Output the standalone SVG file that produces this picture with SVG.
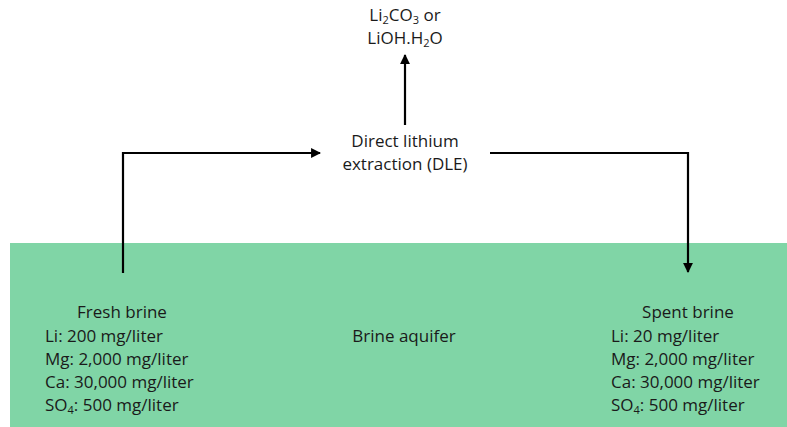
<svg xmlns="http://www.w3.org/2000/svg" width="787" height="427" viewBox="0 0 787 427">
<style>
text{font-family:"Open Sans","Liberation Sans",sans-serif;font-size:17px;fill:#1a1a1a}
.c{text-anchor:middle}
.sub{font-size:11px}
.conn{fill:none;stroke:#000;stroke-width:2.2}
</style>
<defs>
<marker id="ah" viewBox="0 0 10 10" refX="9" refY="5" markerWidth="4.5" markerHeight="4.5" orient="auto" markerUnits="strokeWidth">
<path d="M0,0 L10,5 L0,10 Z" fill="#000"/>
</marker>
</defs>
<g id="aquifer">
<rect x="10" y="243" width="777" height="184" fill="#80D5A6"/>
<text class="c" x="404" y="342">Brine aquifer</text>
</g>
<g id="connectors">
<path class="conn" d="M123,273 V153 H320" marker-end="url(#ah)"/>
<path class="conn" d="M490,153 H688 V272" marker-end="url(#ah)"/>
<path class="conn" d="M405,125 V55" marker-end="url(#ah)"/>
</g>
<g id="product">
<text class="c" x="405" y="21">Li<tspan class="sub" dy="3">2</tspan><tspan dy="-3">CO</tspan><tspan class="sub" dy="3">3</tspan><tspan dy="-3"> or</tspan></text>
<text class="c" x="405" y="44">LiOH.H<tspan class="sub" dy="3">2</tspan><tspan dy="-3">O</tspan></text>
</g>
<g id="dle">
<text class="c" x="405" y="147">Direct lithium</text>
<text class="c" x="405" y="170">extraction (DLE)</text>
</g>
<g id="fresh">
<text class="c" x="122" y="318">Fresh brine</text>
<text x="45" y="342">Li: 200 mg/liter</text>
<text x="45" y="365">Mg: 2,000 mg/liter</text>
<text x="45" y="388">Ca: 30,000 mg/liter</text>
<text x="45" y="411">SO<tspan class="sub" dy="3">4</tspan><tspan dy="-3">: 500 mg/liter</tspan></text>
</g>
<g id="spent">
<text class="c" x="688" y="318">Spent brine</text>
<text x="611" y="342">Li: 20 mg/liter</text>
<text x="611" y="365">Mg: 2,000 mg/liter</text>
<text x="611" y="388">Ca: 30,000 mg/liter</text>
<text x="611" y="411">SO<tspan class="sub" dy="3">4</tspan><tspan dy="-3">: 500 mg/liter</tspan></text>
</g>
</svg>
